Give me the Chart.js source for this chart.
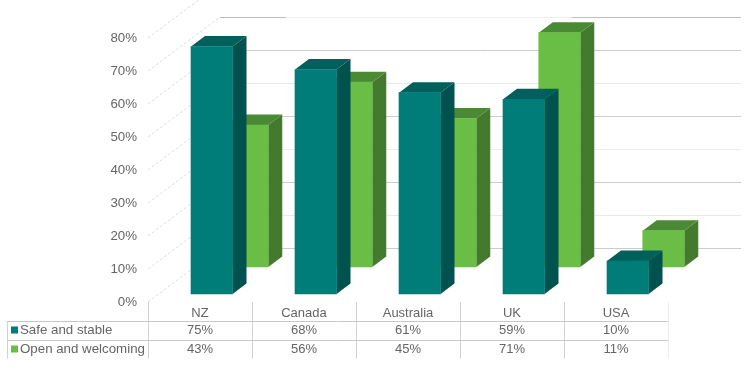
<!DOCTYPE html>
<html>
<head>
<meta charset="utf-8">
<title>Safe and stable vs open and welcoming</title>
<script src="https://cdn.jsdelivr.net/npm/chart.js@4"></script>
<style>
  body { margin: 0; background: #fff; }
  canvas { display: block; }
</style>
</head>
<body>
<canvas id="barChart" width="750" height="371"></canvas>
<script>
const categories = ["NZ", "Canada", "Australia", "UK", "USA"];
const safeStable = [75, 68, 61, 59, 10];
const openWelcoming = [43, 56, 45, 71, 11];
const seriesNames = ["Safe and stable", "Open and welcoming"];

const textColor = "#656565";
const tableFont = "13px 'Liberation Sans', Arial, sans-serif";

// fake 3D look: each row of bars sits at its own place on the floor
const rowShift = [
  { x: 11.75, y: -8 },
  { x: 47.5, y: -35 },
];
const depth = { x: 14, y: -10.5 };
const faces = [
  { front: "#017d79", side: "#00524f", top: "#015f5c" },
  { front: "#6abd45", side: "#447a2d", top: "#4b8a34" },
];
const wall = { x: 72, y: -54, right: 741 };
// the back wall lines are not all the same grey in the picture
const backLineColors = ["#cbcbcb", "#e9e9e9", "#cbcbcb", "#ededed", "#cfcfcf", "#e8e8e8", "#cbcbcb", "#f0f0f0"];

const walls3d = {
  id: "walls3d",
  beforeDatasetsDraw(chart) {
    const ctx = chart.ctx;
    const yScale = chart.scales.y;
    const left = chart.chartArea.left;
    yScale.ticks.forEach((tick, i) => {
      const y = yScale.getPixelForValue(tick.value);
      const backY = Math.round(y + wall.y) + 0.5;
      ctx.save();
      ctx.lineWidth = 1;
      ctx.strokeStyle = "#dcdcdc";
      ctx.setLineDash([3, 2]);
      ctx.beginPath();
      ctx.moveTo(left, y);
      ctx.lineTo(left + wall.x, y + wall.y);
      ctx.stroke();
      ctx.setLineDash([]);
      ctx.strokeStyle = backLineColors[i];
      ctx.beginPath();
      ctx.moveTo(left + wall.x, backY);
      ctx.lineTo(wall.right, backY);
      ctx.stroke();
      // top line is darker at both ends
      if (tick.value === 70) {
        ctx.strokeStyle = "#bdbdbd";
        ctx.beginPath();
        ctx.moveTo(left + wall.x, backY);
        ctx.lineTo(286, backY);
        ctx.moveTo(572, backY);
        ctx.lineTo(wall.right, backY);
        ctx.stroke();
      }
      ctx.restore();
    });
  },
};

const bars3d = {
  id: "bars3d",
  beforeDatasetDraw(chart, args) {
    const ctx = chart.ctx;
    const shift = rowShift[args.index];
    const colors = faces[args.index];
    ctx.save();
    ctx.translate(shift.x, shift.y);
    args.meta.data.forEach(bar => {
      const l = bar.x - bar.width / 2;
      const r = bar.x + bar.width / 2;
      ctx.fillStyle = colors.side;
      ctx.beginPath();
      ctx.moveTo(r, bar.y);
      ctx.lineTo(r + depth.x, bar.y + depth.y);
      ctx.lineTo(r + depth.x, bar.base + depth.y);
      ctx.lineTo(r, bar.base);
      ctx.closePath();
      ctx.fill();
      ctx.fillStyle = colors.top;
      ctx.beginPath();
      ctx.moveTo(l, bar.y);
      ctx.lineTo(l + depth.x, bar.y + depth.y);
      ctx.lineTo(r + depth.x, bar.y + depth.y);
      ctx.lineTo(r, bar.y);
      ctx.closePath();
      ctx.fill();
    });
  },
  afterDatasetDraw(chart) {
    chart.ctx.restore();
  },
};

// data table under the chart
const dataTable = {
  id: "dataTable",
  afterDraw(chart) {
    const ctx = chart.ctx;
    const left = chart.chartArea.left;
    const right = chart.chartArea.right;
    const top = chart.chartArea.bottom;
    const rowLines = [321.5, 340.5, 358.5];
    const cellW = (right - left) / categories.length;
    const rows = [safeStable, openWelcoming];

    ctx.save();
    ctx.lineWidth = 1;
    for (let i = 0; i <= categories.length; i++) {
      const x = Math.round(left + cellW * i) + 0.5;
      ctx.strokeStyle = i === categories.length ? "#ececec" : "#d2d2d2";
      ctx.beginPath();
      ctx.moveTo(x, top);
      ctx.lineTo(x, rowLines[2]);
      ctx.stroke();
    }
    ctx.strokeStyle = "#c8c8c8";
    rowLines.slice(0, 2).forEach(y => {
      ctx.beginPath();
      ctx.moveTo(7, y);
      ctx.lineTo(right, y);
      ctx.stroke();
    });
    ctx.strokeStyle = "#d2d2d2";
    ctx.beginPath();
    ctx.moveTo(7.5, rowLines[0]);
    ctx.lineTo(7.5, rowLines[2]);
    ctx.stroke();

    ctx.font = tableFont;
    ctx.fillStyle = textColor;
    ctx.textBaseline = "middle";
    rows.forEach((values, r) => {
      const y = (r === 0 ? 330.5 : 349.5);
      ctx.fillStyle = faces[r].front;
      ctx.fillRect(11, y - 4, 7, 7);
      ctx.fillStyle = textColor;
      ctx.textAlign = "left";
      ctx.font = "13.3px 'Liberation Sans', Arial, sans-serif";
      ctx.fillText(seriesNames[r], 20, y);
      ctx.font = tableFont;
      ctx.textAlign = "center";
      values.forEach((v, i) => {
        ctx.fillText(v + "%", chart.scales.x.getPixelForValue(i), y);
      });
    });
    ctx.restore();
  },
};

new Chart(document.getElementById("barChart").getContext("2d"), {
  type: "bar",
  data: {
    labels: categories,
    datasets: [
      {
        label: seriesNames[0],
        data: safeStable,
        backgroundColor: faces[0].front,
        borderWidth: 0,
        barThickness: 41.5,
        grouped: false,
        clip: false,
      },
      {
        label: seriesNames[1],
        data: openWelcoming,
        backgroundColor: faces[1].front,
        borderWidth: 0,
        barThickness: 41.5,
        grouped: false,
        clip: false,
      },
    ],
  },
  options: {
    responsive: false,
    animation: false,
    layout: { padding: { top: 38, right: 82 } },
    plugins: {
      legend: { display: false },
      title: { display: false },
      tooltip: { enabled: false },
    },
    scales: {
      x: {
        grid: { display: false, drawTicks: false },
        border: { display: false },
        ticks: {
          color: textColor,
          font: { family: "'Liberation Sans', Arial, sans-serif", size: 13 },
          padding: 4,
          maxRotation: 0,
        },
        afterFit(scale) {
          scale.height = 69;
        },
      },
      y: {
        min: 0,
        max: 80,
        grid: { display: false, drawTicks: false },
        border: { display: false },
        ticks: {
          stepSize: 10,
          color: textColor,
          font: { family: "'Liberation Sans', Arial, sans-serif", size: 13.3 },
          padding: 11,
          callback: value => value + "%",
        },
        afterFit(scale) {
          scale.width = 148;
        },
      },
    },
  },
  plugins: [walls3d, bars3d, dataTable],
});
</script>
</body>
</html>
